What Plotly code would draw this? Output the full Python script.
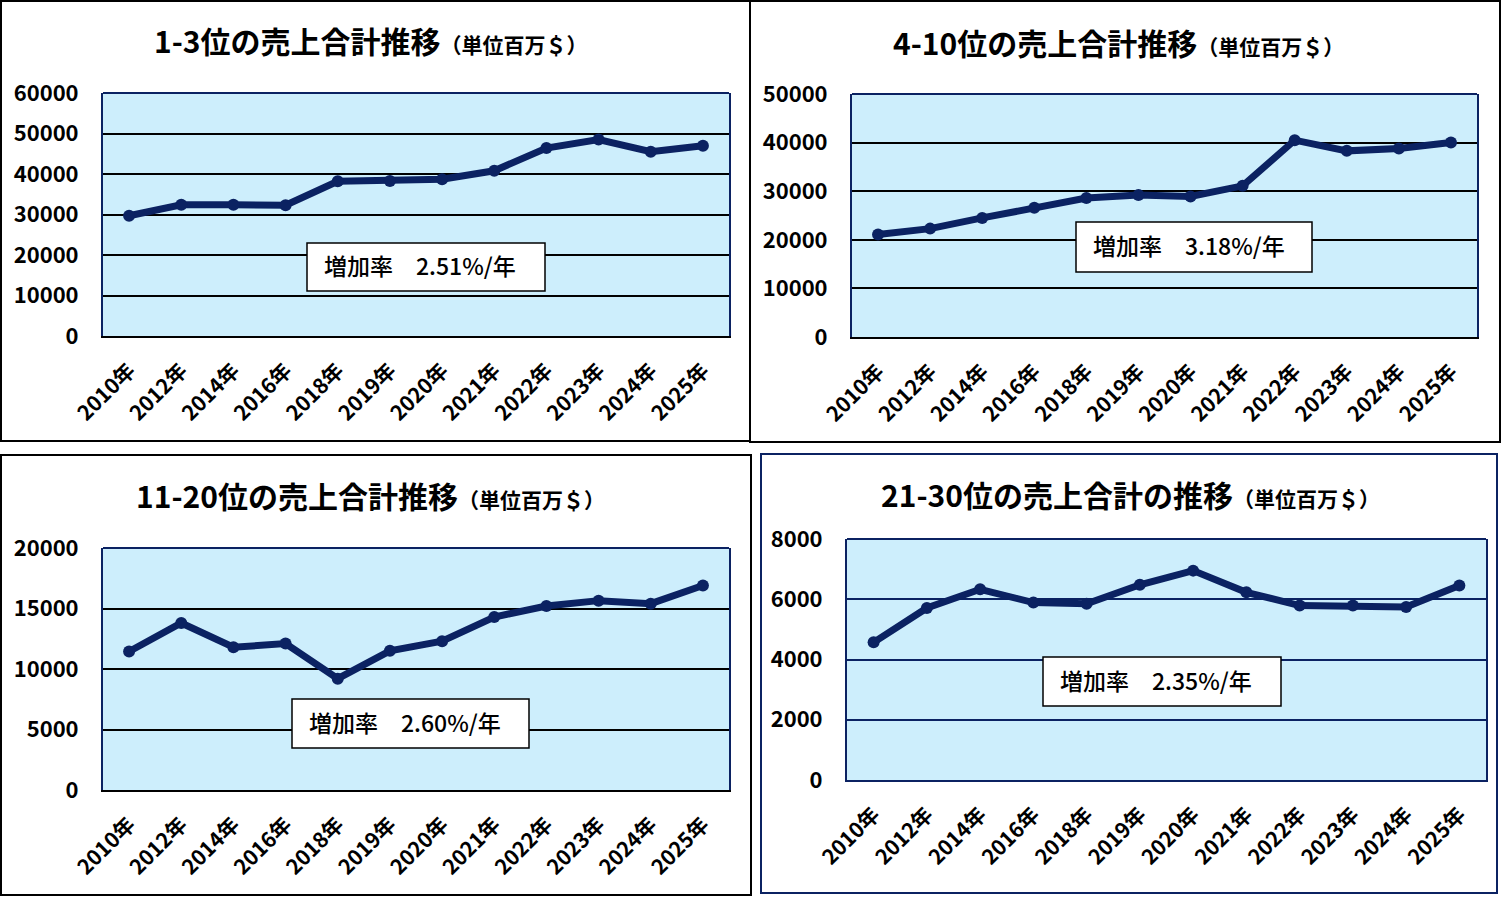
import plotly.graph_objects as go

# 年ラベル（4つのグラフ共通）
years = ["2010年", "2012年", "2014年", "2016年", "2018年", "2019年",
         "2020年", "2021年", "2022年", "2023年", "2024年", "2025年"]

# 各順位グループの売上合計（単位百万＄）
rank_1_3 = [29700, 32400, 32400, 32300, 38200, 38300, 38700, 40800, 46400, 48500, 45500, 47000]
rank_4_10 = [21100, 22300, 24500, 26600, 28600, 29200, 28900, 31100, 40500, 38300, 38800, 40000]
rank_11_20 = [11450, 13800, 11800, 12100, 9200, 11500, 12300, 14300, 15200, 15650, 15400, 16900]
rank_21_30 = [4570, 5710, 6330, 5890, 5850, 6480, 6950, 6230, 5790, 5790, 5740, 6460]

titles = ["1-3位の売上合計推移", "4-10位の売上合計推移",
          "11-20位の売上合計推移", "21-30位の売上合計の推移"]
rates = ["増加率　2.51%/年", "増加率　3.18%/年", "増加率　2.60%/年", "増加率　2.35%/年"]
y_max = [60000, 50000, 20000, 8000]
y_step = [10000, 10000, 5000, 2000]
series = [rank_1_3, rank_4_10, rank_11_20, rank_21_30]

W, H = 1512, 897
NAVY = "#0b2262"
FONT = "Noto Sans CJK JP"


def px(x):
    return x / W


def py(y):
    return 1 - y / H


# 各パネルのレイアウト（ピクセル）
plot_boxes = [(103, 729, 93, 336), (852, 1477, 94, 337),
              (103, 729, 548, 790), (847, 1486, 539, 780)]
frames = [(1, 750, 1, 441, "black"), (750, 1500, 1, 442, "black"),
          (1, 751, 455, 895, "black"), (761, 1497, 454, 893, NAVY)]
title_pos = [(371, 40), (1118, 42), (370, 495), (1130, 494)]
rate_boxes = [(307, 545, 243, 291), (1076, 1312, 222, 272),
              (292, 529, 699, 748), (1043, 1281, 657, 706)]
grid_colors = ["black", "black", "black", NAVY]

fig = go.Figure()
shapes = []
annotations = []

for i in range(4):
    n = "" if i == 0 else str(i + 1)
    xa, ya = "x" + n, "y" + n
    fig.add_trace(go.Scatter(
        x=years, y=series[i], xaxis=xa, yaxis=ya, mode="lines+markers",
        line=dict(color=NAVY, width=7), marker=dict(color=NAVY, size=12),
        showlegend=False, hoverinfo="x+y"))

    x0, x1, y0, y1 = plot_boxes[i]
    fig.layout["xaxis" + n] = dict(
        domain=[px(x0), px(x1)], anchor=ya, type="category",
        range=[-0.5, len(years) - 0.5], tickangle=-45, automargin=False,
        ticks="outside", ticklen=12, tickcolor="rgba(0,0,0,0)",
        showgrid=False, showline=True, linecolor=grid_colors[i], linewidth=2,
        tickfont=dict(family=FONT, size=21, color="black", weight=600),
        fixedrange=True)
    fig.layout["yaxis" + n] = dict(
        domain=[py(y1), py(y0)], anchor=xa, range=[0, y_max[i]],
        dtick=y_step[i], tick0=0, tickformat="d", automargin=False,
        showgrid=True, gridcolor=grid_colors[i],
        gridwidth=1.5, zeroline=False, showline=True, mirror=True,
        linecolor=NAVY, linewidth=2, ticks="outside", ticklen=18,
        tickcolor="rgba(0,0,0,0)",
        tickfont=dict(family=FONT, size=22, color="black", weight=600),
        fixedrange=True)

    # プロット領域の上枠
    shapes.append(dict(type="line", xref="paper", yref="paper",
                       x0=px(x0), x1=px(x1), y0=py(y0), y1=py(y0),
                       line=dict(color=NAVY, width=2), layer="above"))

    # パネル外枠
    fx0, fx1, fy0, fy1, fc = frames[i]
    shapes.append(dict(type="rect", xref="paper", yref="paper",
                       x0=px(fx0), x1=px(fx1), y0=py(fy1), y1=py(fy0),
                       line=dict(color=fc, width=2), layer="above"))

    # 増加率の枠
    bx0, bx1, by0, by1 = rate_boxes[i]
    shapes.append(dict(type="rect", xref="paper", yref="paper",
                       x0=px(bx0), x1=px(bx1), y0=py(by1), y1=py(by0),
                       line=dict(color="black", width=1.5),
                       fillcolor="white", layer="above"))
    annotations.append(dict(
        x=px(bx0 + 15), y=py((by0 + by1) / 2 - 2), xref="paper", yref="paper",
        xanchor="left", yanchor="middle", showarrow=False, text=rates[i],
        font=dict(family=FONT, size=23, color="black", weight=500)))

    tx, ty = title_pos[i]
    annotations.append(dict(
        x=px(tx), y=py(ty), xref="paper", yref="paper",
        xanchor="center", yanchor="middle", showarrow=False,
        text="<b>" + titles[i] + "</b><span style='font-size:21px'><b>（単位百万＄）</b></span>",
        font=dict(family=FONT, size=30, color="black")))

fig.update_layout(
    width=W, height=H, autosize=False,
    margin=dict(l=0, r=0, t=0, b=0, autoexpand=False),
    paper_bgcolor="white", plot_bgcolor="#cdeefc",
    shapes=shapes, annotations=annotations,
    font=dict(family=FONT, color="black"))

fig.write_html("out.html", config={"displayModeBar": False},
               post_script="document.body.style.margin='0';")
